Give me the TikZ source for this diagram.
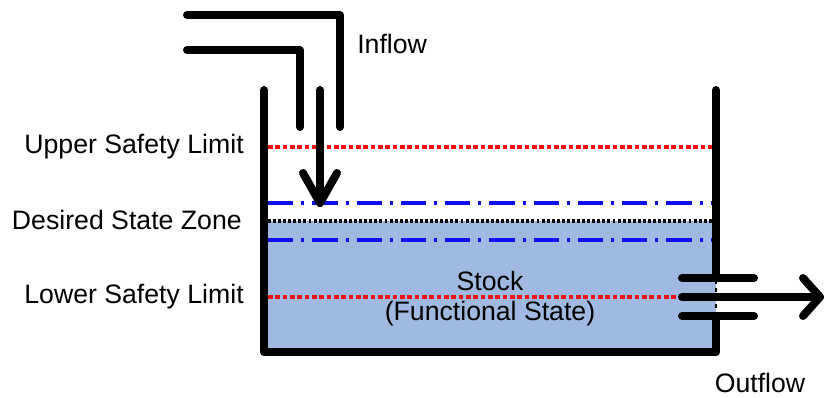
\documentclass[tikz,border=0pt]{standalone}
\usepackage{fontspec}
\setmainfont{Liberation Sans}
\definecolor{stockfill}{RGB}{160,185,225}
\definecolor{limitred}{RGB}{245,15,15}
\definecolor{zoneblue}{RGB}{15,15,240}
\begin{document}
\begin{tikzpicture}[x=0.75pt,y=-0.75pt,
  pipe/.style={line width=6pt,line cap=round,line join=round},
  redlimit/.style={limitred,line width=2.8pt,dash pattern=on 3.5pt off 2pt},
  zoneline/.style={zoneblue,line width=2.8pt,dash pattern=on 19pt off 6pt on 2.2pt off 6pt},
  targetline/.style={black,line width=2.8pt,dash pattern=on 2.2pt off 1.6pt},
  lbl/.style={font=\fontsize{20}{24}\selectfont,inner sep=0pt}]
\useasboundingbox (0,0) rectangle (826,398);

% stock contents
\fill[stockfill] (264,221) rectangle (716,352);

% level lines
\draw[redlimit] (268,147) -- (712,147);
\draw[zoneline] (268,203) -- (712,203);
\draw[targetline] (268,221) -- (712,221);
\draw[zoneline] (268,240) -- (712,240);
\draw[redlimit] (268,297) -- (680,297);

% tank
\draw[pipe] (264,90) -- (264,352) -- (716,352) -- (716,316);
\draw[pipe] (716,278) -- (716,90);
\draw[line width=1.5pt,dash pattern=on 3pt off 3pt] (716,280) -- (716,314);

% inflow pipe
\draw[pipe] (187,15) -- (340,15) -- (340,127);
\draw[pipe] (187,50) -- (300,50) -- (300,127);
\draw[pipe] (320,90) -- (320,203);
\draw[pipe] (303,173) -- (320,203) -- (337,173);

% outflow pipe
\draw[pipe] (682,278) -- (754,278);
\draw[pipe] (682,316) -- (754,316);
\draw[pipe] (682,297) -- (820,297);
\draw[pipe] (803,278) -- (820,297) -- (803,316);

% labels
\node[lbl,anchor=west] (inflow) at (357,44) {Inflow};
\node[lbl,anchor=east] (usl) at (244,147) {Upper Safety Limit};
\node[lbl,anchor=east] (dsz) at (242,220) {Desired State Zone};
\node[lbl,anchor=east] (lsl) at (244,297) {Lower Safety Limit};
\node[lbl] (stock) at (490,281) {Stock};
\node[lbl] (func) at (490,314) {(Functional State)};
\node[lbl] (outflow) at (760,383) {Outflow};
\end{tikzpicture}
\end{document}
